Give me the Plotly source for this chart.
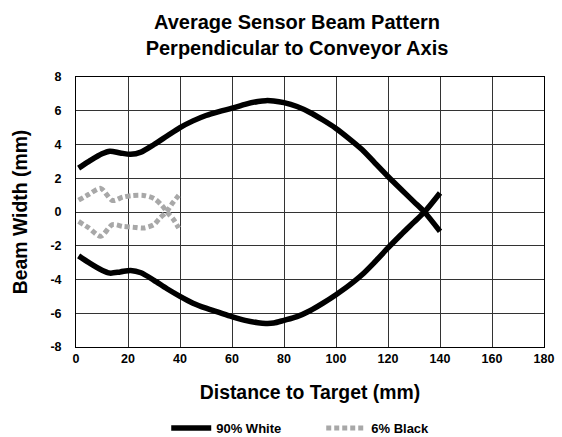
import plotly.graph_objects as go

# 90% White target - upper and lower beam edges
white_x = [1, 5, 10, 13, 17, 21, 25, 30, 35, 40, 45, 50, 55, 60, 65, 70, 73, 76, 80, 85, 90, 95, 100, 105, 110, 115, 120, 125, 130, 134, 140]
white_upper = [2.6, 3.0, 3.45, 3.6, 3.5, 3.42, 3.55, 4.0, 4.5, 5.0, 5.4, 5.72, 5.95, 6.15, 6.38, 6.55, 6.6, 6.58, 6.48, 6.25, 5.9, 5.45, 4.95, 4.35, 3.7, 2.9, 2.1, 1.35, 0.6, 0.0, -1.15]
white_lower = [-2.6, -3.0, -3.45, -3.62, -3.55, -3.46, -3.6, -4.05, -4.55, -5.0, -5.4, -5.7, -5.95, -6.2, -6.42, -6.56, -6.6, -6.58, -6.42, -6.2, -5.85, -5.4, -4.9, -4.35, -3.72, -2.95, -2.13, -1.35, -0.6, 0.0, 1.13]

# 6% Black target - upper and lower beam edges
black_up_x = [1, 5, 9.5, 14, 18, 22, 26, 30, 33, 35, 37.5, 39.5]
black_upper = [0.7, 1.05, 1.4, 0.68, 0.88, 0.98, 0.98, 0.8, 0.4, 0.0, -0.45, -0.95]
black_lo_x = [1, 5, 9.5, 14, 18, 22, 26, 30, 32, 35, 37, 39.5]
black_lower = [-0.56, -0.95, -1.44, -0.75, -0.85, -0.9, -0.95, -0.75, -0.4, 0.05, 0.5, 0.98]

x_ticks = [0, 20, 40, 60, 80, 100, 120, 140, 160, 180]
y_ticks = [-8, -6, -4, -2, 0, 2, 4, 6, 8]

FONT = "Liberation Sans, Arial, sans-serif"
black_line = dict(color="black", width=5.5, shape="spline", smoothing=0.8)
gray_line = dict(color="#a8a8a8", width=5, dash="5px,3px", shape="spline", smoothing=0.8)

fig = go.Figure()
fig.add_trace(go.Scatter(x=white_x, y=white_upper, mode="lines", line=black_line,
                         name="<b>90% White</b>", legendgroup="w"))
fig.add_trace(go.Scatter(x=white_x, y=white_lower, mode="lines", line=black_line,
                         name="90% White", legendgroup="w", showlegend=False))
fig.add_trace(go.Scatter(x=black_up_x, y=black_upper, mode="lines", line=gray_line,
                         name="<b>6% Black</b>", legendgroup="b"))
fig.add_trace(go.Scatter(x=black_lo_x, y=black_lower, mode="lines", line=gray_line,
                         name="6% Black", legendgroup="b", showlegend=False))

fig.update_layout(
    width=562, height=437,
    margin=dict(l=76, r=18, t=77, b=90, autoexpand=False),
    paper_bgcolor="white", plot_bgcolor="white",
    font=dict(family=FONT, color="black"),
    title=dict(text="<b>Average Sensor Beam Pattern<br>Perpendicular to Conveyor Axis</b>",
               x=297 / 562, xanchor="center", y=1 - 28.5 / 437, yanchor="middle",
               font=dict(size=20, family=FONT, color="black")),
    showlegend=True,
    legend=dict(orientation="h", x=0.524, xanchor="center", y=-0.30, yanchor="middle",
                font=dict(size=13, family=FONT, color="black"),
                itemwidth=40, entrywidth=100, bgcolor="rgba(0,0,0,0)"),
)
fig.update_xaxes(range=[0, 180], tickvals=x_ticks, ticktext=[f"<b>{v}</b>" for v in x_ticks],
                 showgrid=True, gridcolor="#333", gridwidth=1, zeroline=False, automargin=False,
                 showline=True, linecolor="black", linewidth=1, mirror=True, ticks="",
                 tickfont=dict(size=12.5, family=FONT, color="black"),
                 title=dict(text="<b>Distance to Target (mm)</b>", font=dict(size=19.4, family=FONT), standoff=20))
fig.update_yaxes(range=[-8, 8], tickvals=y_ticks, ticktext=[f"<b>{v}</b>" for v in y_ticks],
                 showgrid=True, gridcolor="#333", gridwidth=1, zeroline=False, automargin=False,
                 showline=True, linecolor="black", linewidth=1, mirror=True, ticks="",
                 ticklabelstandoff=11,
                 tickfont=dict(size=12.5, family=FONT, color="black"),
                 title=dict(text="<b>Beam Width (mm)</b>", font=dict(size=19.4, family=FONT), standoff=17))

fig.write_html("out.html", config={"displayModeBar": False},
               post_script="document.body.style.margin='0';")
